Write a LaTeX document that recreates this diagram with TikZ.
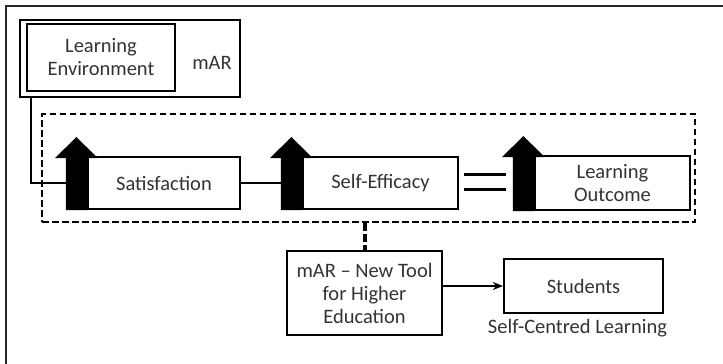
\documentclass[tikz,border=0pt]{standalone}
\usepackage{fontspec}
\setmainfont{Carlito}
\usetikzlibrary{arrows.meta,calc}
\begin{document}
\begin{tikzpicture}[x=1pt,y=-1pt,
  lbl/.style={font=\fontsize{20.5}{23}\selectfont, text=black!80, align=center},
  blk/.style={draw, line width=2.2pt, inner sep=0pt, lbl},
  conn/.style={line width=2.2pt},
  dashframe/.style={draw, line width=2pt, dash pattern=on 6.5pt off 3.5pt},
  blockarrow/.pic={
    \fill (-21,0) -- (0,0) -- (0,-#1) -- (11,-#1) -- (-10.5,-#1-21)
      -- (-32,-#1) -- (-21,-#1) -- cycle;
  }]
  \useasboundingbox (0,0) rectangle (723,364);
  \clip (0,0) rectangle (723,364);

  % outer frame (continues past the right and bottom edges)
  \draw[line width=2.2pt, draw=black!85] (740,6) -| (6,380);

  % learning environment group
  \node[blk, minimum width=220pt, minimum height=77pt] (marbox) at (130,58.5) {};
  \node[blk, minimum width=148pt, minimum height=67pt] (env) at (101,57.5) {Learning\\Environment};
  \node[lbl] (marlbl) at (212,63) {mAR};

  % dashed region around the chain
  \node[dashframe, minimum width=653pt, minimum height=108pt] (region) at (368.5,168) {};

  % chain of outcomes
  \node[blk, minimum width=152pt, minimum height=52pt] (sat) at (164,183) {Satisfaction};
  \node[blk, minimum width=155pt, minimum height=52pt] (eff) at (380.5,183) {Self-Efficacy};
  \node[blk, minimum width=155pt, minimum height=54pt] (lo) at (612.5,183) {Learning\\Outcome};

  \pic at (sat.south west) {blockarrow=52};
  \pic at (eff.south west) {blockarrow=52};
  \pic at (lo.south west) {blockarrow=54};

  \coordinate (satin) at ($(sat.west)+(-21,0)$);
  \coordinate (effin) at ($(eff.west)+(-21,0)$);

  \draw[conn] ($(marbox.south west)+(12,0)$) |- (satin);
  \draw[conn] (sat.east) -- (effin);

  % equals sign between Self-Efficacy and Learning Outcome
  \draw[line width=3pt] ($(eff.east)+(5,-9)$) -- ++(42,0);
  \draw[line width=3pt] ($(eff.east)+(5,6.5)$) -- ++(42,0);

  % tool and students
  \node[blk, minimum width=155pt, minimum height=84pt] (tool) at (364.5,293) {mAR -- New Tool\\for Higher\\Education};
  \node[blk, minimum width=159pt, minimum height=54pt] (stud) at (583.5,286) {Students};
  \node[lbl, anchor=north] (scl) at ($(stud.south)+(-6,2)$) {Self-Centred Learning};

  \draw[line width=4pt, dash pattern=on 8pt off 3pt] (tool.north |- region.south) -- (tool.north);
  \draw[conn, -{Stealth[length=10pt,width=8pt]}] (tool.east |- stud.west) -- (stud.west);
\end{tikzpicture}
\end{document}
